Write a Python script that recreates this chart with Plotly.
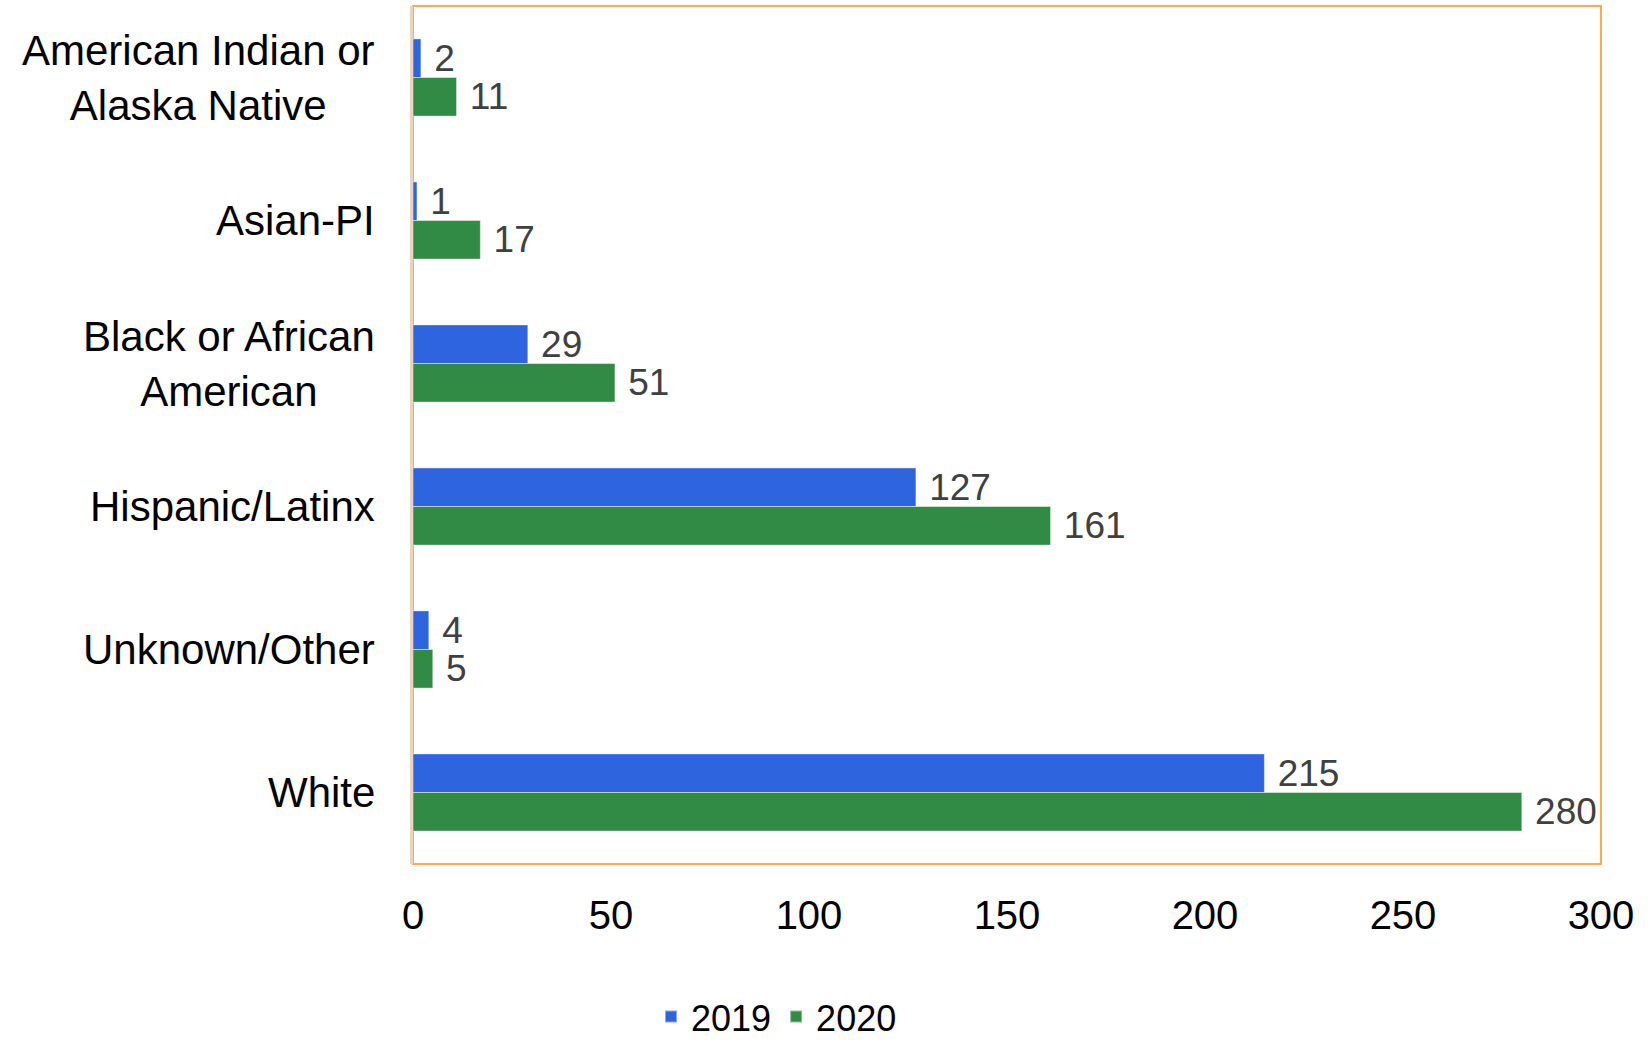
import plotly.graph_objects as go

categories = ["American Indian or<br>Alaska Native", "Asian-PI", "Black or African<br>American",
              "Hispanic/Latinx", "Unknown/Other", "White"]
values_2019 = [2, 1, 29, 127, 4, 215]
values_2020 = [11, 17, 51, 161, 5, 280]
tick_vals = [0, 50, 100, 150, 200, 250, 300]

FONT = "Liberation Sans, Arial, sans-serif"
BLUE = "#2E64DE"
GREEN = "#318B45"

fig = go.Figure()
for name, vals, col in [("2019", values_2019, BLUE), ("2020", values_2020, GREEN)]:
    fig.add_trace(go.Bar(
        y=categories, x=vals, name=name, orientation="h",
        marker=dict(color=col, line=dict(color="rgba(255,255,255,0.45)", width=1)),
        text=vals, texttemplate="\u00a0%{x}", textposition="outside",
        textfont=dict(family=FONT, size=37, color="#404040"),
        constraintext="none", cliponaxis=False, hoverinfo="x+y",
    ))

for c in categories:
    fig.add_annotation(x=0, xref="paper", y=c, yref="y", xanchor="right", yanchor="middle",
                       xshift=-36, text=c, showarrow=False, align="center",
                       font=dict(family=FONT, size=42, color="#000000"))

fig.add_shape(type="rect", xref="paper", yref="paper", x0=0, x1=1, y0=0, y1=1,
              line=dict(color="#FFAA4C", width=2), layer="below")

fig.update_layout(
    width=1648, height=1044,
    margin=dict(l=413, r=47, t=6, b=180, autoexpand=False),
    paper_bgcolor="white", plot_bgcolor="white",
    barmode="group", bargap=0.46, bargroupgap=0,
    font=dict(family=FONT, color="#000000"),
    showlegend=True,
    legend=dict(orientation="h", x=0.306, xanchor="center", y=-0.178, yanchor="middle",
                font=dict(family=FONT, size=36, color="#000000"), itemsizing="constant",
                traceorder="normal"),
    xaxis=dict(range=[0, 300], tickvals=tick_vals, showgrid=False, zeroline=False,
               showline=False, ticks="", ticklabelstandoff=24,
               tickfont=dict(family=FONT, size=40, color="#000000")),
    yaxis=dict(autorange="reversed", showticklabels=False, showgrid=False, zeroline=False,
               showline=True, linecolor="#E8D5C0", linewidth=3, ticks=""),
)

fig.write_html("out.html")
